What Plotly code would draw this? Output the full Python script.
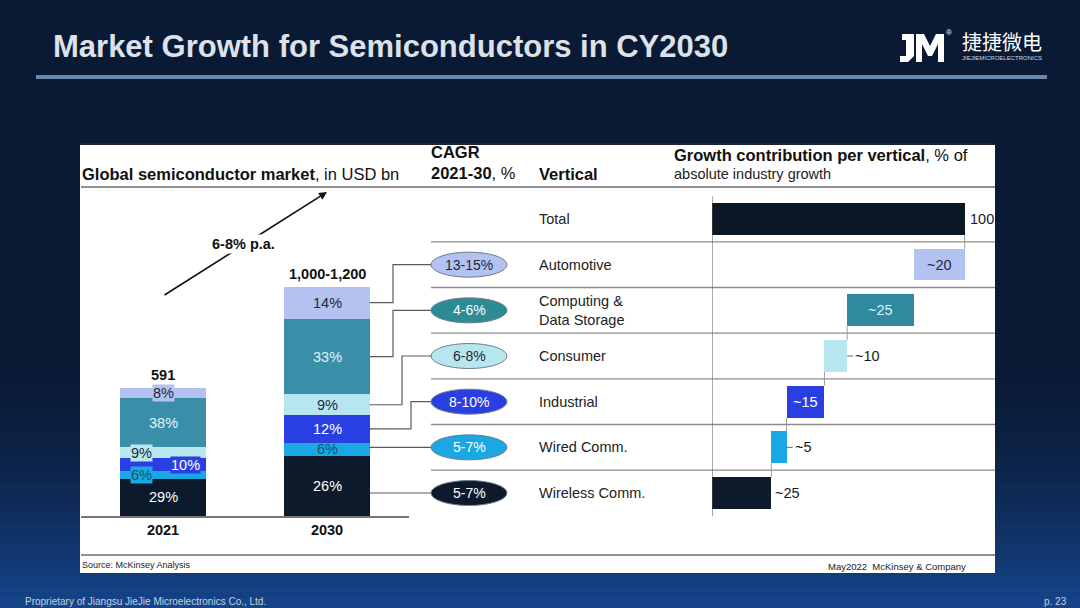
import plotly.graph_objects as go

# ---------------- data ----------------
years = ["2021", "2030"]
market_total = [591, 1060]            # drawn bar heights, USD bn
total_labels = ["591", "1,000-1,200"]
# segments from bottom to top of the stacked bars
seg_names = ["Wireless Comm.", "Wired Comm.", "Industrial", "Consumer",
             "Computing &<br>Data Storage", "Automotive"]
share_2021 = [29, 6, 10, 9, 38, 8]
share_2030 = [26, 6, 12, 9, 33, 14]
cagr_labels = ["5-7%", "5-7%", "8-10%", "6-8%", "4-6%", "13-15%"]
contribution = [23.5, 6, 15, 9, 26.5, 20]       # waterfall widths (% of growth)
contribution_labels = ["~25", "~5", "~15", "~10", "~25", "~20"]
total_growth = 100
total_growth_label = "100"
growth_label = "6-8% p.a."

# ---------------- style ----------------
seg_colors = ["#0c1a2b", "#1ba6e4", "#2a3fe2", "#b8e6ef", "#3a8ea8", "#b4c2f2"]
wf_colors = ["#0c1a2b", "#1ba6e4", "#2a3fe2", "#b8e6ef", "#2f8a9f", "#b4c2f2"]
ell_colors = ["#0c1a2b", "#1ba6e4", "#2a3fe2", "#b8e6ef", "#2b8c96", "#b4c2f2"]
ell_text = ["white", "white", "white", "#1a2a3a", "white", "#1a2a3a"]
seg_text_2021 = ["white", "#0b5a6e", "white", "#1a2a3a", "#dff4f8", "#1a2a3a"]
seg_text_2030 = ["white", "#0b5a6e", "white", "#1a2a3a", "#dff4f8", "#1a2a3a"]
shift_2021 = [0, -22, 22, -22, 0, 0]
wf_inside = [False, False, True, False, True, True]
wf_text = ["#1a1a1a", "#1a1a1a", "white", "#1a1a1a", "#dff4f8", "#1a2a3a"]
wf_dash = [False, True, False, True, False, False]
elbow_x = [None, None, 411, 402, 393, 393]

FONT = "Liberation Sans, Arial, sans-serif"
NARROW = "Liberation Sans Narrow, Arial Narrow, Liberation Sans, sans-serif"
BG = "#0a1a35"
W, H = 1080, 608


def px(x):
    return x / W


def py(y):
    return 1 - y / H


# left chart geometry (pixels)
L_X0, L_X1, L_YB, L_YT, L_YMAX = 81, 409, 516, 200, 1460
BAR_W = 0.52
# right chart geometry
R_X0, R_X1, R_XMAX = 712, 995, 112
ROW0, ROWSTEP = 219, 45.67


def ly_px(v):
    return L_YB - v / L_YMAX * (L_YB - L_YT)


def row_px(r):
    return ROW0 + r * ROWSTEP


fig = go.Figure()

# ---------- stacked bars ----------
for i, name in enumerate(seg_names):
    vals = [market_total[0] * share_2021[i] / 100, market_total[1] * share_2030[i] / 100]
    fig.add_trace(go.Bar(x=years, y=vals, name=name, marker_color=seg_colors[i],
                         marker_line_width=0, width=BAR_W, xaxis="x", yaxis="y",
                         showlegend=False, hoverinfo="skip"))

# ---------- waterfall ----------
n = len(contribution)
bases = []
acc = 0
for c in contribution:
    bases.append(acc)
    acc += c
rows = [n - i for i in range(n)]
fig.add_trace(go.Bar(x=[total_growth] + contribution, y=[0] + rows,
                     base=[0] + bases, orientation="h", width=0.7,
                     marker_color=["#0b1826"] + wf_colors, marker_line_width=0,
                     xaxis="x2", yaxis="y2", showlegend=False, hoverinfo="skip"))

shapes = []
ann = []

# background gradient towards the bottom
c0 = (10, 26, 53)
c1 = (22, 70, 140)
steps = 24
g_top, g_bot = 360, 608
for k in range(steps):
    t = (k + 0.5) / steps
    t = t ** 1.6
    col = tuple(int(c0[m] + (c1[m] - c0[m]) * t) for m in range(3))
    y0 = g_top + (g_bot - g_top) * k / steps
    y1 = g_top + (g_bot - g_top) * (k + 1) / steps + 1
    shapes.append(dict(type="rect", xref="paper", yref="paper", x0=0, x1=1,
                       y0=py(y1), y1=py(y0), fillcolor="rgb(%d,%d,%d)" % col,
                       line_width=0, layer="below"))
# panel
shapes.append(dict(type="rect", xref="paper", yref="paper", x0=px(80), x1=px(995),
                   y0=py(573), y1=py(143), fillcolor="white", line_width=0, layer="below"))
shapes.append(dict(type="line", xref="paper", yref="paper", x0=px(80), x1=px(995),
                   y0=py(144), y1=py(144), line=dict(color="#1a2433", width=2)))
# header underline and footer line
shapes.append(dict(type="line", xref="paper", yref="paper", x0=px(81), x1=px(995),
                   y0=py(187), y1=py(187), line=dict(color="#6b6b6b", width=1.5)))
shapes.append(dict(type="line", xref="paper", yref="paper", x0=px(81), x1=px(995),
                   y0=py(555), y1=py(555), line=dict(color="#6b6b6b", width=1.5)))
# title underline
shapes.append(dict(type="rect", xref="paper", yref="paper", x0=px(36), x1=px(1047),
                   y0=py(79), y1=py(75), fillcolor="#6a88ad", line_width=0))

# logo mark (simple block glyph)
logo = "M 902,34 L 914,34 L 914,56 L 908,62 L 900,62 L 900,56 L 906,56 L 906,40 L 902,40 Z " \
       "M 916,34 L 924,34 L 930,46 L 936,34 L 944,34 L 944,62 L 938,62 L 938,44 L 932,56 L 928,56 L 922,44 L 922,62 L 916,62 Z"
logo_path = ""
for tok in logo.split():
    if "," in tok:
        a, b = tok.split(",")
        logo_path += f"{px(float(a))},{py(float(b))} "
    else:
        logo_path += tok + " "
shapes.append(dict(type="path", xref="paper", yref="paper", path=logo_path.strip(),
                   fillcolor="white", line_width=0))

# row separators
for r in range(n):
    yy = row_px(r + 0.5)
    shapes.append(dict(type="line", xref="paper", yref="paper", x0=px(431), x1=px(995),
                       y0=py(yy), y1=py(yy), line=dict(color="#8c8c8c", width=1.3)))

# waterfall axis line
shapes.append(dict(type="line", xref="x2", yref="y2", x0=0, x1=0, y0=-0.5, y1=n + 0.5,
                   line=dict(color="#555555", width=1)))
# waterfall connectors
bar_rows = [0] + rows
bar_bases = [0] + bases
for k in range(n):
    r = bar_rows[k]
    xb = bar_bases[k] if k > 0 else total_growth
    shapes.append(dict(type="line", xref="x2", yref="y2", x0=xb, x1=xb,
                       y0=r + 0.35, y1=r + 0.65, line=dict(color="#9a9a9a", width=1)))

# waterfall labels
ann.append(dict(x=total_growth, y=0, xref="x2", yref="y2", text=total_growth_label,
                showarrow=False, xanchor="left", xshift=3,
                font=dict(family=FONT, size=14.5, color="#1a1a1a")))
for i in range(n):
    r = rows[i]
    end = bases[i] + contribution[i]
    if wf_inside[i]:
        ann.append(dict(x=bases[i] + contribution[i] / 2, y=r, xref="x2", yref="y2",
                        text=contribution_labels[i], showarrow=False,
                        font=dict(family=FONT, size=14.5, color=wf_text[i])))
    else:
        shift = 2
        if wf_dash[i]:
            shapes.append(dict(type="line", xref="x2", yref="y2", x0=end, x1=end + 2.4,
                               y0=r, y1=r, line=dict(color="#666666", width=1)))
            shift = 6
        ann.append(dict(x=end, y=r, xref="x2", yref="y2", text=contribution_labels[i],
                        showarrow=False, xanchor="left", xshift=shift,
                        font=dict(family=FONT, size=14.5, color=wf_text[i])))

# vertical names + CAGR ellipses
VX = 537
ann.append(dict(x=px(VX), y=py(row_px(0)), xref="paper", yref="paper", text="Total",
                showarrow=False, xanchor="left", font=dict(family=FONT, size=14.5, color="#222")))
for i in range(n):
    r = rows[i]
    yy = row_px(r)
    ann.append(dict(x=px(VX), y=py(yy), xref="paper", yref="paper", text=seg_names[i],
                    showarrow=False, xanchor="left", align="left",
                    font=dict(family=FONT, size=14.5, color="#222")))
    shapes.append(dict(type="circle", xref="paper", yref="paper", x0=px(431), x1=px(507),
                       y0=py(yy + 12.5), y1=py(yy - 12.5), fillcolor=ell_colors[i],
                       line=dict(color="#6d7d8d", width=1)))
    ann.append(dict(x=px(469), y=py(yy), xref="paper", yref="paper", text=cagr_labels[i],
                    showarrow=False, font=dict(family=FONT, size=14, color=ell_text[i])))

# connectors from 2030 bar to ellipses
cat_w = (L_X1 - L_X0) / 2
bar_right = L_X0 + 1.5 * cat_w + BAR_W / 2 * cat_w
cum = 0
for i in range(n):
    lo = market_total[1] * cum / 100
    hi = market_total[1] * (cum + share_2030[i]) / 100
    mid = (lo + hi) / 2
    cum += share_2030[i]
    ry = row_px(rows[i])
    if ly_px(hi) <= ry <= ly_px(lo) or elbow_x[i] is None:
        pts = [(bar_right, ry), (431, ry)]
    else:
        sy = ly_px(mid)
        ex = elbow_x[i]
        pts = [(bar_right, sy), (ex, sy), (ex, ry), (431, ry)]
    path = "M " + " L ".join(f"{px(a)},{py(b)}" for a, b in pts)
    shapes.append(dict(type="path", xref="paper", yref="paper", path=path,
                       line=dict(color="#5a5a5a", width=1.2)))

# stacked bar labels
for j, shares in enumerate([share_2021, share_2030]):
    cum = 0
    for i in range(n):
        mid = market_total[j] * (cum + shares[i] / 2) / 100
        cum += shares[i]
        xs = shift_2021[i] if j == 0 else 0
        col = seg_text_2021[i] if j == 0 else seg_text_2030[i]
        bg = seg_colors[i] if (j == 0 and i != 0 and i != 4) else None
        a = dict(x=j, y=mid, xref="x", yref="y", text=f"{shares[i]}%",
                 showarrow=False, xshift=xs, font=dict(family=FONT, size=14.5, color=col))
        if bg:
            a.update(bgcolor=bg, borderpad=0)
        ann.append(a)
    ann.append(dict(x=j, y=market_total[j], xref="x", yref="y",
                    text=f"<b>{total_labels[j]}</b>", showarrow=False, yanchor="bottom",
                    yshift=3, font=dict(family=FONT, size=14.5, color="#111")))

# growth arrow
x_a = L_X0 + 0.5 * cat_w
x_b = L_X0 + 1.5 * cat_w
ann.append(dict(x=px(x_b), y=py(192), xref="paper", yref="paper", ax=x_a - x_b, ay=296 - 192,
                axref="pixel", ayref="pixel", text="", showarrow=True, arrowhead=2,
                arrowsize=1, arrowwidth=1.6, arrowcolor="#111"))
ann.append(dict(x=px(243), y=py(244), xref="paper", yref="paper",
                text=f"<b>{growth_label}</b>", showarrow=False, bgcolor="white",
                font=dict(family=FONT, size=14.5, color="#111")))

# headers
HS = 16.5
ann += [
    dict(x=px(80), y=py(174), text="<b>Global semiconductor market</b>, in USD bn",
         xanchor="left", font=dict(family=FONT, size=HS, color="#111")),
    dict(x=px(429), y=py(152), text="<b>CAGR</b>", xanchor="left",
         font=dict(family=FONT, size=HS, color="#111")),
    dict(x=px(429), y=py(173), text="<b>2021-30</b>, %", xanchor="left",
         font=dict(family=FONT, size=HS, color="#111")),
    dict(x=px(537), y=py(174), text="<b>Vertical</b>", xanchor="left",
         font=dict(family=FONT, size=HS, color="#111")),
    dict(x=px(672), y=py(155), text="<b>Growth contribution per vertical</b>, % of",
         xanchor="left", font=dict(family=FONT, size=HS, color="#111")),
    dict(x=px(672), y=py(174), text="absolute industry growth", xanchor="left",
         font=dict(family=FONT, size=14.5, color="#222")),
    dict(x=px(80), y=py(565), text="Source: McKinsey Analysis", xanchor="left",
         font=dict(family=NARROW, size=9, color="#222")),
    dict(x=px(968), y=py(566), text="May2022  McKinsey &amp; Company", xanchor="right",
         font=dict(family=NARROW, size=9.5, color="#222")),
    # slide chrome
    dict(x=px(51), y=py(46), text="<b>Market Growth for Semiconductors in CY2030</b>",
         xanchor="left", font=dict(family=FONT, size=31, color="#dde1e8")),
    dict(x=px(949), y=py(33), text="®", font=dict(family=FONT, size=8, color="white")),
    dict(x=px(1002), y=py(41), text="捷捷微电",
         font=dict(family="Noto Sans CJK SC", size=20, color="white")),
    dict(x=px(1002), y=py(58), text="JIEJIEMICROELECTRONICS",
         font=dict(family=NARROW, size=6, color="#d0d8e4")),
    dict(x=px(23), y=py(601), text="Proprietary of Jiangsu JieJie Microelectronics Co., Ltd.",
         xanchor="left", font=dict(family=NARROW, size=10, color="#c8d0dc")),
    dict(x=px(1069), y=py(601), text="p. 23", xanchor="right",
         font=dict(family=NARROW, size=10, color="#c8d0dc")),
]
for a in ann:
    a.setdefault("xref", "paper")
    a.setdefault("yref", "paper")
    a.setdefault("showarrow", False)
    a.setdefault("xanchor", "center")
    a.setdefault("yanchor", "middle")

fig.update_layout(
    width=W, height=H, margin=dict(l=0, r=0, t=0, b=0),
    paper_bgcolor=BG, plot_bgcolor="rgba(0,0,0,0)",
    barmode="stack", bargap=0,
    xaxis=dict(domain=[px(L_X0), px(L_X1)], type="category", range=[-0.5, 1.5],
               tickvals=years, ticktext=[f"<b>{y}</b>" for y in years],
               tickfont=dict(family=FONT, size=14.5, color="#111"),
               showline=True, linecolor="#777", linewidth=1.5, ticks="",
               showgrid=False, zeroline=False, fixedrange=True),
    yaxis=dict(domain=[py(L_YB), py(L_YT)], range=[0, L_YMAX], visible=False,
               fixedrange=True),
    xaxis2=dict(domain=[px(R_X0), px(R_X1)], range=[0, R_XMAX], visible=False,
                anchor="y2"),
    yaxis2=dict(domain=[py(row_px(n + 0.5)), py(row_px(-0.5))], range=[n + 0.5, -0.5],
                visible=False, anchor="x2"),
    shapes=shapes, annotations=ann,
)

fig.write_html("out.html", config={"displayModeBar": False},
               post_script="document.body.style.margin='0';")
